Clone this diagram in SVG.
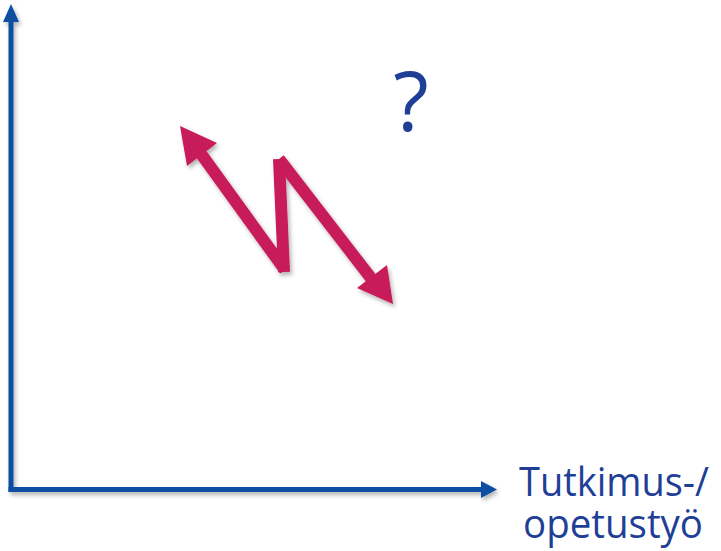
<svg xmlns="http://www.w3.org/2000/svg" width="721" height="551" viewBox="0 0 721 551">
<defs>
<filter id="sh" x="-20%" y="-20%" width="140%" height="140%">
<feDropShadow dx="2" dy="3" stdDeviation="2" flood-color="#000" flood-opacity="0.3"/>
</filter>
<style>
.axis{stroke:#0b4ea2;stroke-width:5;fill:none}
.axhead{fill:#0b4ea2}
.zz{stroke:#c81b5a;stroke-width:12;fill:none;stroke-linecap:butt}
.zzh{fill:#c81b5a}
.lbl{font-family:"Open Sans","Noto Sans",sans-serif;fill:#1f3f97}
</style>
</defs>
<rect width="721" height="551" fill="#fff"/>
<g id="connectors" filter="url(#sh)">
<line class="axis" x1="11" y1="20" x2="11" y2="492"/>
<polygon class="axhead" points="11,4 3,22 19,22"/>
<line class="axis" x1="8.5" y1="489.5" x2="484" y2="489.5"/>
<polygon class="axhead" points="497,489.5 481,481 481,498"/>
</g>
<g id="zigzag" filter="url(#sh)">
<line class="zz" x1="199" y1="151" x2="285" y2="270"/>
<line class="zz" x1="284" y1="272" x2="279" y2="159"/>
<line class="zz" x1="279" y1="159" x2="374" y2="282"/>
<polygon class="zzh" points="180,126 187,166 217,143"/>
<polygon class="zzh" points="393,304 357,288 387,265"/>
</g>
<g id="question">
<text class="lbl" x="411" y="131" font-size="82" text-anchor="middle">?</text>
</g>
<g id="xlabel">
<text class="lbl" x="519" y="496" font-size="40" textLength="190" lengthAdjust="spacingAndGlyphs">Tutkimus-/</text>
<text class="lbl" x="523" y="538" font-size="40" textLength="180" lengthAdjust="spacingAndGlyphs">opetustyö</text>
</g>
</svg>
